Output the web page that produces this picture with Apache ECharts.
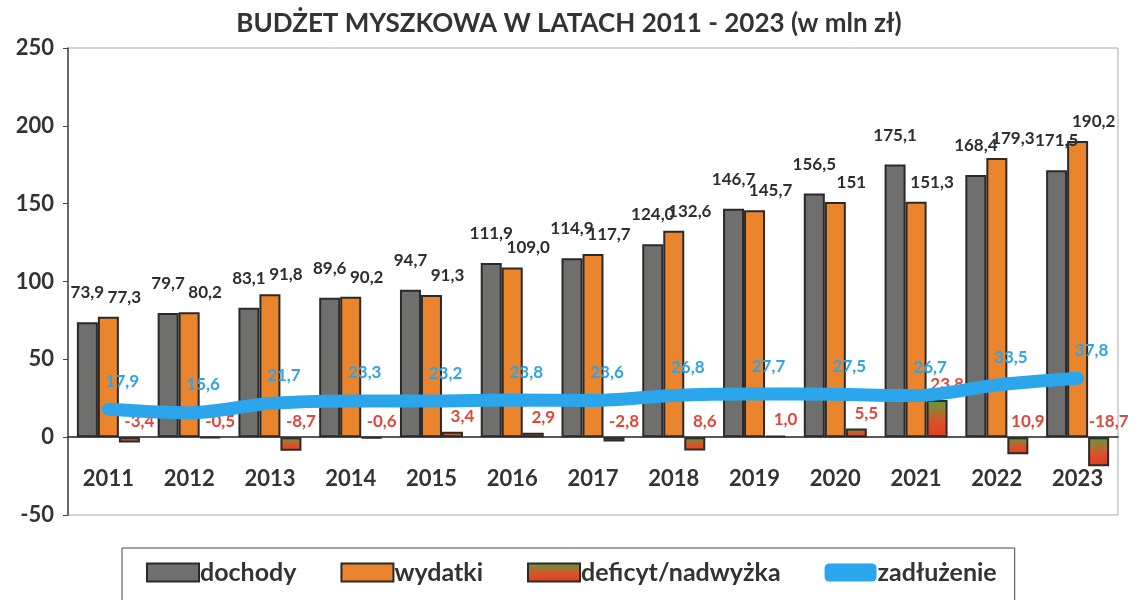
<!DOCTYPE html>
<html>
<head>
<meta charset="utf-8">
<title>Budżet Myszkowa</title>
<script src="https://cdn.jsdelivr.net/npm/echarts@6/dist/echarts.min.js"></script>
<style>
  html, body { margin: 0; padding: 0; background: #fff; }
  #chart { width: 1138px; height: 600px; }
</style>
</head>
<body>
<div id="chart"></div>
<script>
'use strict';

// lata
var years = ['2011', '2012', '2013', '2014', '2015', '2016', '2017', '2018', '2019', '2020', '2021', '2022', '2023'];
// dochody / wydatki (mln zł)
var dochody = [73.9, 79.7, 83.1, 89.6, 94.7, 111.9, 114.9, 124.0, 146.7, 156.5, 175.1, 168.4, 171.5];
var wydatki = [77.3, 80.2, 91.8, 90.2, 91.3, 109.0, 117.7, 132.6, 145.7, 151, 151.3, 179.3, 190.2];
// deficyt / nadwyżka
var deficyt = [-3.4, -0.5, -8.7, -0.6, 3.4, 2.9, -2.8, -8.6, 1.0, 5.5, 23.8, -10.9, -18.7];
var deficytLabels = ['-3,4', '-0,5', '-8,7', '-0,6', '3,4', '2,9', '-2,8', '8,6', '1,0', '5,5', '23,8', '10,9', '-18,7'];
// zadłużenie
var zadluzenie = [17.9, 15.6, 21.7, 23.3, 23.2, 23.8, 23.6, 26.8, 27.7, 27.5, 26.7, 33.5, 37.8];

var fontName = 'Lato, "Open Sans", sans-serif';

function fmt(v) {
    return String(v).replace('.', ',');
}
function fmt1(v) {
    return v.toFixed(1).replace('.', ',');
}

var myChart = echarts.init(document.getElementById('chart'));

var option = {
    animation: false,
    backgroundColor: '#fff',
    textStyle: { fontFamily: fontName },
    title: {
        text: 'BUDŻET MYSZKOWA W LATACH 2011 - 2023 (w mln zł)',
        left: 'center',
        top: 6,
        textStyle: { fontSize: 26, fontWeight: 'bold', color: '#333', fontFamily: fontName }
    },
    legend: {
        top: 548,
        left: 122,
        itemWidth: 52,
        itemHeight: 18,
        itemGap: 44,
        padding: [12, 18, 16, 24],
        borderColor: '#444',
        borderWidth: 1,
        textStyle: { fontSize: 25, fontWeight: 'bold', color: '#333', fontFamily: fontName, padding: [0, 0, 0, -4] },
        data: [
            { name: 'dochody', icon: 'rect' },
            { name: 'wydatki', icon: 'rect' },
            { name: 'deficyt/nadwyżka', icon: 'rect' },
            { name: 'zadłużenie', icon: 'roundRect', itemStyle: { color: '#2ba6ec', borderWidth: 0 } }
        ]
    },
    grid: {
        left: 68,
        right: 20,
        top: 48,
        bottom: 85,
        show: true,
        borderColor: '#aaa',
        borderWidth: 1
    },
    xAxis: {
        type: 'category',
        data: years,
        axisLine: { onZero: true, lineStyle: { color: '#222', width: 1.5 } },
        axisTick: { show: false },
        axisLabel: { margin: -47, fontSize: 22, fontWeight: 'bold', color: '#333' }
    },
    yAxis: {
        type: 'value',
        min: -50,
        max: 250,
        interval: 50,
        splitLine: { show: false },
        axisLine: { show: true, lineStyle: { color: '#444', width: 1.5 } },
        axisTick: { show: true, inside: false, length: 5, lineStyle: { color: '#444' } },
        axisLabel: { margin: 14, fontSize: 22, fontWeight: 'bold', color: '#333' }
    },
    series: [
        {
            name: 'dochody',
            type: 'bar',
            data: dochody,
            barWidth: 21,
            barGap: '0%',
            itemStyle: { color: '#6f706e', borderColor: '#2a2a2a', borderWidth: 2 },
            label: {
                show: true, position: 'top', offset: [0, -16],
                fontSize: 17, fontWeight: 'bold', color: '#2e2e2e',
                formatter: function (p) { return fmt1(p.value); }
            }
        },
        {
            name: 'wydatki',
            type: 'bar',
            data: wydatki,
            barWidth: 21,
            barGap: '0%',
            itemStyle: { color: '#ea852e', borderColor: '#2a2a2a', borderWidth: 2 },
            label: {
                show: true, position: 'top', offset: [16, -6],
                fontSize: 17, fontWeight: 'bold', color: '#2e2e2e',
                formatter: function (p) { return p.dataIndex === 9 ? fmt(p.value) : fmt1(p.value); }
            }
        },
        {
            name: 'deficyt/nadwyżka',
            type: 'bar',
            data: deficyt,
            barWidth: 21,
            barGap: '0%',
            itemStyle: {
                color: new echarts.graphic.LinearGradient(0, 0, 0, 1, [
                    { offset: 0, color: '#5c9e3c' },
                    { offset: 0.55, color: '#d8542a' },
                    { offset: 1, color: '#e63b1e' }
                ]),
                borderColor: '#2a2a2a',
                borderWidth: 2
            },
            label: {
                show: true, position: 'top', offset: [10, -2],
                fontSize: 17, fontWeight: 'bold', color: '#e0463c',
                formatter: function (p) { return deficytLabels[p.dataIndex]; }
            }
        },
        {
            name: 'zadłużenie',
            type: 'line',
            data: zadluzenie,
            smooth: 0.3,
            showSymbol: true,
            symbol: 'circle',
            symbolSize: 1,
            z: 5,
            lineStyle: { color: '#2ba6ec', width: 13, cap: 'round' },
            itemStyle: { color: '#2ba6ec' },
            label: {
                show: true, position: 'top', offset: [14, -14],
                fontSize: 17, fontWeight: 'bold', color: '#2ea3e6',
                formatter: function (p) { return fmt1(p.value); }
            }
        }
    ]
};

myChart.setOption(option);
</script>
</body>
</html>
